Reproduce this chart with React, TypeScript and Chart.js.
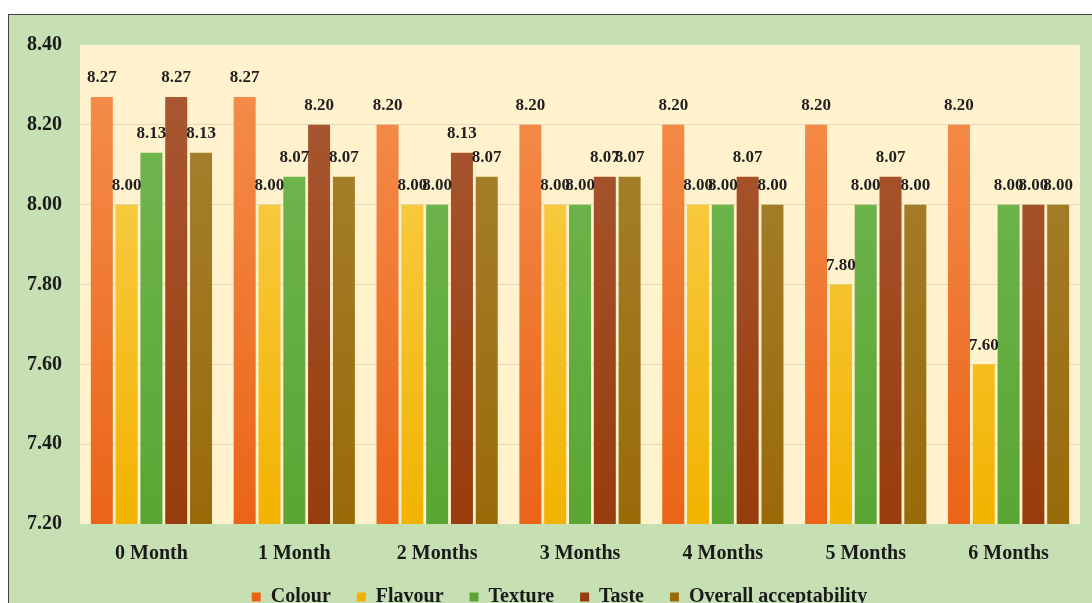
import React, { useEffect, useRef } from "react";
import { Chart, registerables } from "chart.js";

Chart.register(...registerables);

const categories = ["0 Month", "1 Month", "2 Months", "3 Months", "4 Months", "5 Months", "6 Months"];
const colourValues = [8.27, 8.27, 8.2, 8.2, 8.2, 8.2, 8.2];
const flavourValues = [8.0, 8.0, 8.0, 8.0, 8.0, 7.8, 7.6];
const textureValues = [8.13, 8.07, 8.0, 8.0, 8.0, 8.0, 8.0];
const tasteValues = [8.27, 8.2, 8.13, 8.07, 8.07, 8.07, 8.0];
const overallValues = [8.13, 8.07, 8.07, 8.07, 8.0, 8.0, 8.0];
const seriesNames = ["Colour", "Flavour", "Texture", "Taste", "Overall acceptability"];
const yMin = 7.2;
const yMax = 8.4;
const yStep = 0.2;

const seriesColors: [string, string][] = [
  ["#f6904f", "#ea6418"],
  ["#fbd35c", "#f2b300"],
  ["#74b955", "#5aa634"],
  ["#aa5a36", "#973c0c"],
  ["#a88436", "#996a08"],
];

const FONT = "'Liberation Serif', 'Times New Roman', serif";
const LEGEND_SHIFT = 15;

export default function App() {
  const ref = useRef<HTMLCanvasElement | null>(null);

  useEffect(() => {
    document.documentElement.style.overflow = "hidden";
    document.body.style.overflow = "hidden";
    const canvas = ref.current;
    if (!canvas) return;

    const makeBg = (i: number) => (ctx: any) => {
      const chart = ctx.chart;
      const area = chart.chartArea;
      if (!area) return seriesColors[i][1];
      const g = chart.ctx.createLinearGradient(0, area.top, 0, area.bottom);
      g.addColorStop(0, seriesColors[i][0]);
      g.addColorStop(1, seriesColors[i][1]);
      return g;
    };

    const allValues = [colourValues, flavourValues, textureValues, tasteValues, overallValues];

    const bgPlugin = {
      id: "bgPlugin",
      afterLayout(chart: any) {
        const lg = chart.legend;
        if (lg) {
          lg.left += LEGEND_SHIFT;
          lg.right += LEGEND_SHIFT;
        }
      },
      beforeDraw(chart: any) {
        const { ctx, chartArea, width, height } = chart;
        ctx.save();
        ctx.fillStyle = "#c6e0b4";
        ctx.fillRect(0, 0, width, height);
        ctx.fillStyle = "#fff2cc";
        ctx.fillRect(chartArea.left, chartArea.top, chartArea.right - chartArea.left, chartArea.bottom - chartArea.top);
        ctx.restore();
      },
    };

    const labelPlugin = {
      id: "valueLabels",
      afterDatasetsDraw(chart: any) {
        const { ctx } = chart;
        ctx.save();
        ctx.font = `bold 17px ${FONT}`;
        ctx.fillStyle = "#1e1e1e";
        ctx.textAlign = "center";
        ctx.textBaseline = "middle";
        chart.data.datasets.forEach((ds: any, di: number) => {
          const meta = chart.getDatasetMeta(di);
          meta.data.forEach((el: any, i: number) => {
            const v = ds.data[i] as number;
            ctx.fillText(v.toFixed(2), el.x, el.y - 19);
          });
        });
        ctx.restore();
      },
    };

    const chart = new Chart(canvas, {
      type: "bar",
      data: {
        labels: categories,
        datasets: allValues.map((vals, i) => ({
          label: seriesNames[i],
          data: vals,
          backgroundColor: makeBg(i),
          borderWidth: 0,
          categoryPercentage: 0.868,
          barPercentage: 0.887,
        })),
      },
      options: {
        animation: false,
        responsive: false,
        maintainAspectRatio: false,
        layout: { padding: { top: 28, right: 59, left: 0, bottom: 0 } },
        plugins: {
          tooltip: { enabled: false },
          legend: {
            position: "bottom",
            labels: {
              boxWidth: 9,
              boxHeight: 9,
              padding: 26,
              color: "#1a1a1a",
              font: { family: FONT, size: 20, weight: "bold" },
              generateLabels: (chart: any) =>
                chart.data.datasets.map((ds: any, i: number) => ({
                  text: ds.label,
                  fillStyle: seriesColors[i][1],
                  strokeStyle: seriesColors[i][1],
                  lineWidth: 0,
                  hidden: false,
                  datasetIndex: i,
                  fontColor: "#1a1a1a",
                })),
            },
          },
        },
        scales: {
          x: {
            grid: { display: false, drawTicks: false },
            border: { display: false },
            ticks: {
              color: "#1a1a1a",
              padding: 18,
              font: { family: FONT, size: 20, weight: "bold" },
            },
            afterFit: (scale: any) => {
              scale.height = 37;
            },
          },
          y: {
            min: yMin,
            max: yMax,
            grid: {
              drawTicks: false,
              color: (ctx: any) => {
                const v = ctx.tick ? ctx.tick.value : 0;
                if (Math.abs(v - yMin) < 1e-6 || Math.abs(v - yMax) < 1e-6) return "rgba(0,0,0,0)";
                return "#e6d9b8";
              },
              lineWidth: 1,
            },
            border: { display: false },
            ticks: {
              stepSize: yStep,
              color: "#1a1a1a",
              padding: 18,
              font: { family: FONT, size: 20, weight: "bold" },
              callback: (v: any) => Number(v).toFixed(2),
            },
            afterFit: (scale: any) => {
              scale.width = 71;
            },
          },
        },
      },
      plugins: [bgPlugin, labelPlugin],
    });

    return () => chart.destroy();
  }, []);

  return (
    <div
      style={{
        position: "absolute",
        left: 8,
        top: 14,
        border: "1px solid #444",
        background: "#c6e0b4",
        width: 1130,
        height: 620,
      }}
    >
      <canvas ref={ref} width={1130} height={602} style={{ display: "block", width: 1130, height: 602 }} />
    </div>
  );
}
